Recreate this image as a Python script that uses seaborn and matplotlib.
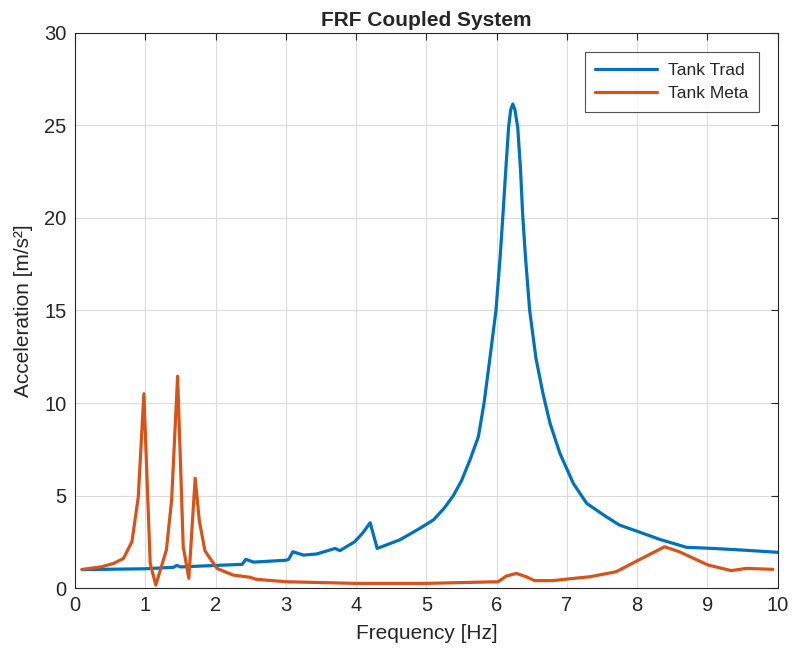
import pandas as pd
import seaborn as sns
import matplotlib.pyplot as plt

# values
freq_trad = [0.1, 0.4, 1.0, 1.4, 1.45, 1.5, 2.0, 2.38, 2.43, 2.54, 3.0, 3.04, 3.10,
             3.25, 3.44, 3.70, 3.77, 3.98, 4.10, 4.20, 4.30, 4.62, 4.91, 5.10, 5.25,
             5.38, 5.50, 5.62, 5.74, 5.82, 5.90, 5.99, 6.05, 6.09, 6.13, 6.17, 6.20,
             6.23, 6.26, 6.30, 6.34, 6.37, 6.41, 6.47, 6.56, 6.66, 6.76, 6.90, 7.09,
             7.28, 7.56, 7.75, 8.02, 8.32, 8.70, 9.08, 9.50, 10.0]
acc_trad = [1.0, 1.01, 1.04, 1.12, 1.22, 1.14, 1.22, 1.28, 1.55, 1.40, 1.50, 1.55, 1.96,
            1.78, 1.84, 2.14, 2.02, 2.50, 3.00, 3.53, 2.14, 2.60, 3.23, 3.68, 4.30,
            4.97, 5.80, 6.92, 8.18, 9.98, 12.3, 15.0, 17.9, 20.2, 22.6, 24.9, 25.85,
            26.16, 25.85, 24.9, 22.6, 20.2, 17.9, 15.0, 12.4, 10.5, 8.9, 7.28, 5.66,
            4.58, 3.85, 3.40, 3.04, 2.63, 2.20, 2.14, 2.05, 1.93]

freq_meta = [0.1, 0.38, 0.55, 0.69, 0.81, 0.90, 0.98, 1.07, 1.15, 1.30, 1.375, 1.46,
             1.54, 1.62, 1.71, 1.77, 1.85, 2.02, 2.25, 2.49, 2.58, 3.0, 4.0, 5.0,
             6.02, 6.14, 6.28, 6.42, 6.54, 6.80, 7.02, 7.33, 7.70, 8.02, 8.39, 8.60,
             9.01, 9.34, 9.55, 9.93]
acc_meta = [1.0, 1.15, 1.33, 1.6, 2.5, 4.9, 10.5, 1.33, 0.16, 2.05, 4.75, 11.45,
            2.23, 0.52, 5.93, 3.6, 2.0, 1.06, 0.70, 0.58, 0.47, 0.34, 0.25, 0.25,
            0.34, 0.65, 0.79, 0.61, 0.40, 0.40, 0.49, 0.61, 0.88, 1.51, 2.23, 1.96,
            1.24, 0.94, 1.06, 1.01]

series_names = ["Tank Trad", "Tank Meta"]
colors = ["#0072BD", "#D95319"]

df = pd.concat([
    pd.DataFrame({"freq": freq_trad, "acc": acc_trad, "series": series_names[0]}),
    pd.DataFrame({"freq": freq_meta, "acc": acc_meta, "series": series_names[1]}),
])

sns.set_style("white")
plt.rcParams["font.family"] = ["Liberation Sans", "DejaVu Sans"]

fig = plt.figure(figsize=(7.92, 6.57), dpi=100)
ax = fig.add_axes([0.0947, 0.105, 0.8873, 0.8448])

sns.lineplot(data=df, x="freq", y="acc", hue="series", palette=colors,
             linewidth=2.3, estimator=None, sort=False, ax=ax)

ax.set_xlim(0, 10)
ax.set_ylim(0, 30)
ax.set_xticks(range(0, 11))
ax.set_yticks(range(0, 31, 5))
ax.grid(True, color="#dcdcdc", linewidth=0.8)
ax.set_axisbelow(True)
for s in ax.spines.values():
    s.set_color("#262626")
    s.set_linewidth(0.8)
ax.tick_params(direction="in", length=5, width=0.8, color="#262626",
               labelsize=14.5, labelcolor="#262626", top=True, right=True, pad=6)

ax.set_xlabel("Frequency [Hz]", fontsize=15, color="#262626", labelpad=6)
ax.set_ylabel("Acceleration [m/s²]", fontsize=15, color="#262626", labelpad=8)
ax.set_title("FRF Coupled System", fontsize=15, fontweight="bold", pad=5)

leg = ax.legend(title=None, loc="upper right", fontsize=12.5, handlelength=3.6,
                frameon=True, fancybox=False, borderaxespad=1.1, borderpad=0.6,
                labelspacing=0.5, handletextpad=0.6)
leg.get_frame().set_edgecolor("#262626")
leg.get_frame().set_linewidth(0.8)

fig.savefig("out.png", dpi=100)
